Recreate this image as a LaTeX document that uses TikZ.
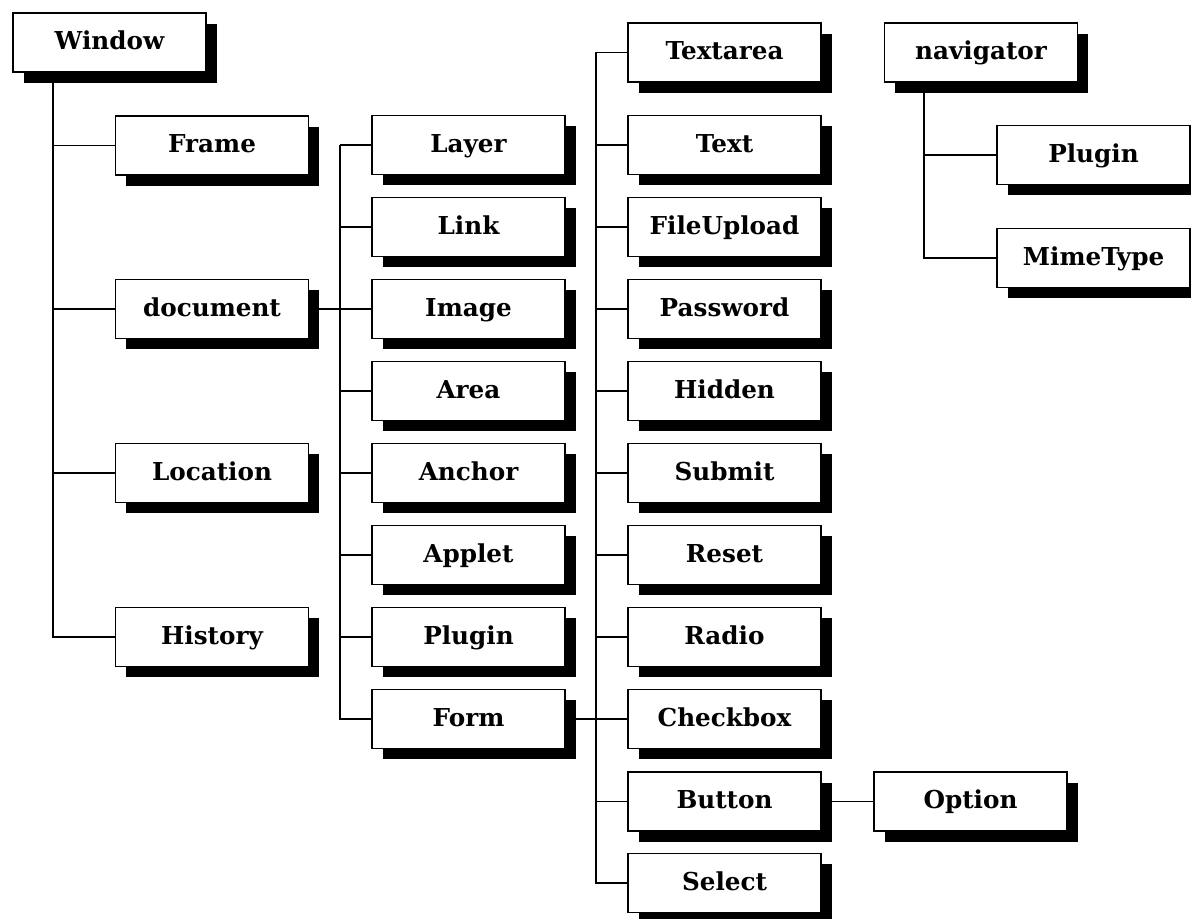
\documentclass[tikz,border=0pt]{standalone}
\usepackage{fontspec}
\setmainfont{DejaVu Serif}
\usetikzlibrary{shadows,backgrounds}
\tikzset{
  objbox/.style={draw=black, line width=1.3pt, fill=white,
    minimum width=144.75pt, minimum height=44.25pt, inner sep=0pt,
    text height=1.08em, text depth=0pt,
    font=\bfseries\fontsize{18.5pt}{22pt}\selectfont,
    drop shadow={shadow xshift=7.9pt, shadow yshift=-8.2pt, fill=black, opacity=1}},
  conn/.style={draw=black, line width=1.4pt}
}
\begin{document}
\begin{tikzpicture}[x=0.75pt,y=-0.75pt]
\useasboundingbox (0,0) rectangle (1191,919);
\clip (0,0) rectangle (1191,919);
% column 1
\node[objbox] (Window) at (109.5,42.5) {Window};
\node[objbox] (Frame) at (212,145.5) {Frame};
\node[objbox] (document) at (212,309) {document};
\node[objbox] (Location) at (212,473) {Location};
\node[objbox] (History) at (212,637) {History};
% column 2
\node[objbox] (Layer) at (468.5,145) {Layer};
\node[objbox] (Link) at (468.5,227) {Link};
\node[objbox] (Image) at (468.5,309) {Image};
\node[objbox] (Area) at (468.5,391) {Area};
\node[objbox] (Anchor) at (468.5,473) {Anchor};
\node[objbox] (Applet) at (468.5,555) {Applet};
\node[objbox] (Plugin) at (468.5,637) {Plugin};
\node[objbox] (Form) at (468.5,719) {Form};
% column 3
\node[objbox] (Textarea) at (724.5,52.5) {Textarea};
\node[objbox] (Text) at (724.5,145) {Text};
\node[objbox] (FileUpload) at (724.5,227) {FileUpload};
\node[objbox] (Password) at (724.5,309) {Password};
\node[objbox] (Hidden) at (724.5,391) {Hidden};
\node[objbox] (Submit) at (724.5,473) {Submit};
\node[objbox] (Reset) at (724.5,555) {Reset};
\node[objbox] (Radio) at (724.5,637) {Radio};
\node[objbox] (Checkbox) at (724.5,719) {Checkbox};
\node[objbox] (Button) at (724.5,801.5) {Button};
\node[objbox] (Select) at (724.5,883) {Select};
\node[objbox] (Option) at (970.5,801.5) {Option};
% navigator
\node[objbox] (navigator) at (981,52.5) {navigator};
\node[objbox] (NavPlugin) at (1093.5,155) {Plugin};
\node[objbox] (MimeType) at (1093.5,258) {MimeType};
% trunks
\coordinate (t1) at (53,42.5);
\coordinate (t2) at (340,145);
\coordinate (t3) at (596,52.5);
\coordinate (t4) at (924,52.5);
\begin{scope}[on background layer]
\foreach \c in {Frame,document,Location,History}
  \draw[conn] (t1) |- (\c);
\foreach \c in {Layer,Link,Image,Area,Anchor,Applet,Plugin,Form}
  \draw[conn] (t2) |- (\c);
\foreach \c in {Textarea,Text,FileUpload,Password,Hidden,Submit,Reset,Radio,Checkbox,Button,Select}
  \draw[conn] (t3) |- (\c);
\foreach \c in {NavPlugin,MimeType}
  \draw[conn] (t4) |- (\c);
\draw[conn] (document) -- (Image);
\draw[conn] (Form) -- (Checkbox);
\draw[conn] (Button) -- (Option);
\end{scope}
\end{tikzpicture}
\end{document}
